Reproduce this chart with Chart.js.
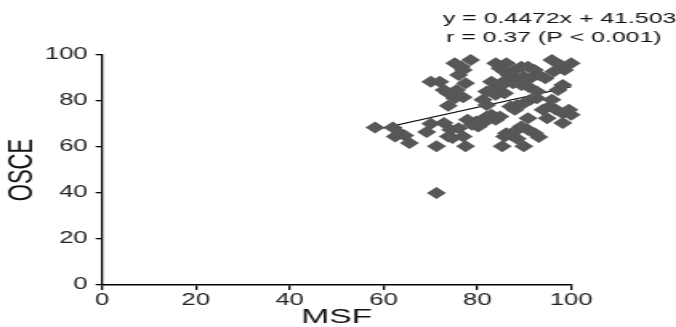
<!DOCTYPE html>
<html>
<head>
<meta charset="utf-8">
<script src="https://cdn.jsdelivr.net/npm/chart.js@4"></script>
<style>
  html, body { margin: 0; padding: 0; background: #fff; overflow: hidden; }
  /* the original figure is stretched sideways, so draw narrow and widen it */
  #wrap { width: 422px; height: 327px; position: relative; transform: scaleX(1.602); transform-origin: 0 0; }
</style>
</head>
<body>
<div id="wrap"><canvas id="myChart"></canvas></div>
<script>
// MSF (x) and OSCE (y) scores
var msf = [58.2, 62, 63.5, 64.5, 65.5, 62.5, 69.2, 70.1, 72, 72.9,
    73.8, 75.2, 77, 75.6, 77.5, 76, 75.2, 76.6, 78.6, 77,
    73.8, 70.1, 71.3, 71.3, 72.9, 74.3, 73.8, 74.7, 77, 77.5,
    76, 77.9, 78.9, 79.8, 81.2, 80.2, 82, 83, 83.9, 84.8,
    81.2, 82, 83.9, 83, 84.8, 85.8, 83.9, 84.8, 85.8, 86.7,
    88, 89.4, 90.8, 92.2, 88.5, 89.9, 91.3, 89.4, 90.8, 87.6,
    86.2, 93.1, 94.5, 95.9, 97.7, 100, 98.6, 96.3, 97.2, 98.2,
    92.7, 87.1, 88, 88.5, 89.9, 91.3, 92.7, 94, 95.4, 95.9,
    96.8, 98.2, 100, 99.5, 94.9, 98.2, 90.8, 86.2, 85.8, 87.1,
    88, 89.4, 90.8, 92.2, 93.1, 88.5, 85.3, 89.9, 82, 83, 86.2];
var osce = [68.5, 68.5, 66, 65, 61.7, 64.6, 66.5, 88.4, 88.4, 84.8,
    83.4, 81.2, 81.6, 84.8, 87.7, 91.3, 96.4, 94.9, 97.8, 93.5,
    77.9, 70.1, 60.3, 40, 70.4, 67.5, 64.6, 63.9, 64.6, 60.3,
    68.2, 71.8, 69.7, 71.1, 70.4, 68.9, 73.3, 74, 71.8, 73.3,
    80.5, 78.3, 82.7, 88.4, 86.3, 83.4, 96.4, 94.2, 92.8, 91.3,
    93.5, 94.9, 94.9, 93.5, 89.2, 90.6, 89.9, 87, 86.3, 87.7,
    89.2, 91.3, 89.9, 97.8, 95.7, 96.4, 93.5, 92.8, 84.8, 87,
    84.1, 77.6, 76.2, 78.3, 79, 80.5, 81.2, 76.2, 77.6, 80.5,
    76.2, 74.7, 74, 76.2, 72.5, 70.4, 72.5, 66, 64.6, 65.3,
    66.8, 68.9, 67.5, 66, 64.3, 63.6, 60.3, 60.3, 84.1, 84.8, 96.4];

// regression line end points
var trendX = [58, 100];
var trendY = [67.4, 86.2];

var xTicks = [0, 20, 40, 60, 80, 100];
var yTicks = [0, 20, 40, 60, 80, 100];

var annotation = ["y = 0.4472x + 41.503", "r = 0.37 (P < 0.001)"];

var pts = [];
for (let i = 0; i < msf.length; i++) {
    pts.push({ x: msf[i], y: osce[i] });
}
var line = [];
for (let i = 0; i < trendX.length; i++) {
    line.push({ x: trendX[i], y: trendY[i] });
}

const labelPlugin = {
    id: 'eqLabel',
    afterDraw(chart) {
        const c = chart.ctx;
        c.save();
        c.fillStyle = '#111';
        c.font = '15.5px "Liberation Sans", Arial, sans-serif';
        c.textAlign = 'left';
        c.textBaseline = 'middle';
        c.fillText(annotation[0], 276.5, 19);
        c.fillText(annotation[1], 278.5, 38);
        c.restore();
    }
};

const ctx = document.getElementById('myChart');
var cht = new Chart(ctx, {
    type: 'scatter',
    data: {
        datasets: [{
            label: 'points',
            data: pts,
            pointStyle: 'rectRot',
            pointRadius: 6,
            backgroundColor: '#575757',
            borderColor: '#575757',
            borderWidth: 0,
            clip: false
        }, {
            label: 'trend',
            type: 'line',
            data: line,
            showLine: true,
            pointRadius: 0,
            borderColor: '#000',
            borderWidth: 1.2,
            fill: false,
            clip: false
        }]
    },
    options: {
        responsive: true,
        maintainAspectRatio: false,
        animation: false,
        layout: { padding: { left: 0, top: 55, right: 65.5, bottom: 0 } },
        plugins: {
            legend: { display: false },
            tooltip: { enabled: false }
        },
        scales: {
            x: {
                type: 'linear',
                min: 0,
                max: 100,
                afterBuildTicks: function (s) { s.ticks = xTicks.map(v => ({ value: v })); },
                afterFit: function (s) { s.height = 42; },
                grid: { drawOnChartArea: false, drawTicks: true, tickLength: 5, color: '#000', lineWidth: 1.3 },
                border: { color: '#000', width: 1.4 },
                ticks: {
                    color: '#222',
                    padding: 1,
                    font: { family: '"Liberation Sans", Arial, sans-serif', size: 16 }
                },
                title: {
                    display: true,
                    text: 'MSF',
                    color: '#111',
                    padding: { top: 0, bottom: -3 },
                    font: { family: '"Liberation Sans", Arial, sans-serif', size: 21 }
                }
            },
            y: {
                type: 'linear',
                min: 0,
                max: 100,
                afterBuildTicks: function (s) { s.ticks = yTicks.map(v => ({ value: v })); },
                afterFit: function (s) { s.width = 63.7; },
                grid: { drawOnChartArea: false, drawTicks: true, tickLength: 4, color: '#000', lineWidth: 1.3 },
                border: { color: '#000', width: 1.3 },
                ticks: {
                    color: '#222',
                    padding: 5,
                    font: { family: '"Liberation Sans", Arial, sans-serif', size: 16 }
                },
                title: {
                    display: true,
                    text: 'OSCE',
                    color: '#111',
                    padding: { top: 1, bottom: 0 },
                    font: { family: '"Liberation Sans", Arial, sans-serif', size: 22 }
                }
            }
        }
    },
    plugins: [labelPlugin]
});
</script>
</body>
</html>
